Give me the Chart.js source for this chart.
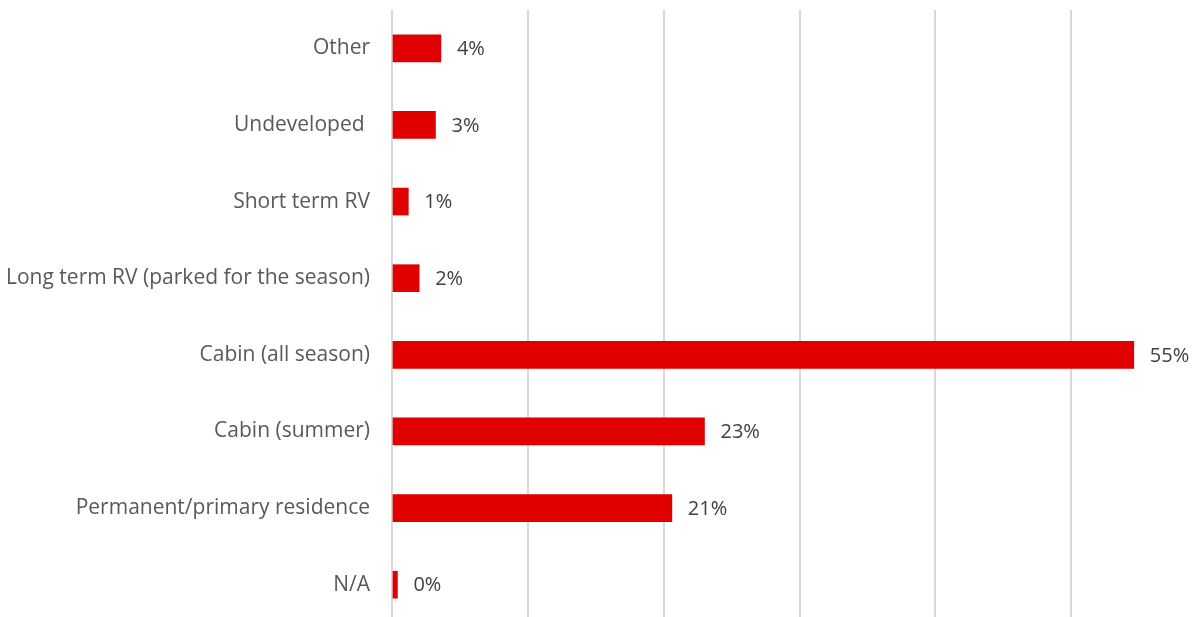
<!DOCTYPE html>
<html>
<head>
<meta charset="utf-8">
<script src="https://cdn.jsdelivr.net/npm/chart.js@4.4.1/dist/chart.umd.min.js"></script>
<style>
  html, body { margin: 0; padding: 0; background: #fff; overflow: hidden; }
  /* a little taller than the window: the plot runs past the bottom edge */
  #wrap { width: 1199px; height: 623px; }
</style>
</head>
<body>
<div id="wrap"><canvas id="usage"></canvas></div>
<script>
const categories = [
  "Other",
  "Undeveloped ",
  "Short term RV",
  "Long term RV (parked for the season)",
  "Cabin (all season)",
  "Cabin (summer)",
  "Permanent/primary residence",
  "N/A"
];
const shares = [3.6, 3.2, 1.2, 2.0, 54.6, 23.0, 20.6, 0.4];

const FONT = "'Open Sans', sans-serif";

// prints the rounded percentage just past the end of each bar
const barValues = {
  id: 'barValues',
  afterDatasetsDraw(chart) {
    const ctx = chart.ctx;
    const meta = chart.getDatasetMeta(0);
    ctx.save();
    ctx.font = "20px " + FONT;
    ctx.fillStyle = '#404040';
    ctx.textAlign = 'left';
    ctx.textBaseline = 'middle';
    meta.data.forEach((bar, i) => {
      ctx.fillText(Math.round(shares[i]) + '%', bar.x + 16, bar.y + 1);
    });
    ctx.restore();
  }
};

const usage = document.getElementById('usage');
new Chart(usage, {
    type: 'bar',
    data: {
      labels: categories,
      datasets: [{
        data: shares,
        backgroundColor: '#E00000',
        borderWidth: 0,
        barThickness: 27,
      }]
    },
    options: {
        indexAxis: 'y',
        responsive: true,
        maintainAspectRatio: false,
        animation: false,
        layout: {
            padding: { top: 10, bottom: 0, left: 0, right: 0 }
        },
        plugins: {
            legend: { display: false },
            tooltip: { enabled: false },
        },
        scales: {
            x: {
                min: 0,
                max: 59.4,
                ticks: { display: false, stepSize: 10, includeBounds: false },
                grid: { color: '#d9d9d9', lineWidth: 2, drawTicks: false },
                border: { display: false },
            },
            y: {
                afterFit(scale) {
                    // fixed label column, and no extra room above/below the bars
                    scale.width = 392;
                    scale.paddingTop = 0;
                    scale.paddingBottom = 0;
                },
                ticks: {
                    color: '#595959',
                    font: { family: FONT, size: 21 },
                    padding: 22,
                },
                grid: { display: false, drawTicks: false },
                border: { display: false },
            },
        },
    },
    plugins: [barValues]
});
</script>
</body>
</html>
